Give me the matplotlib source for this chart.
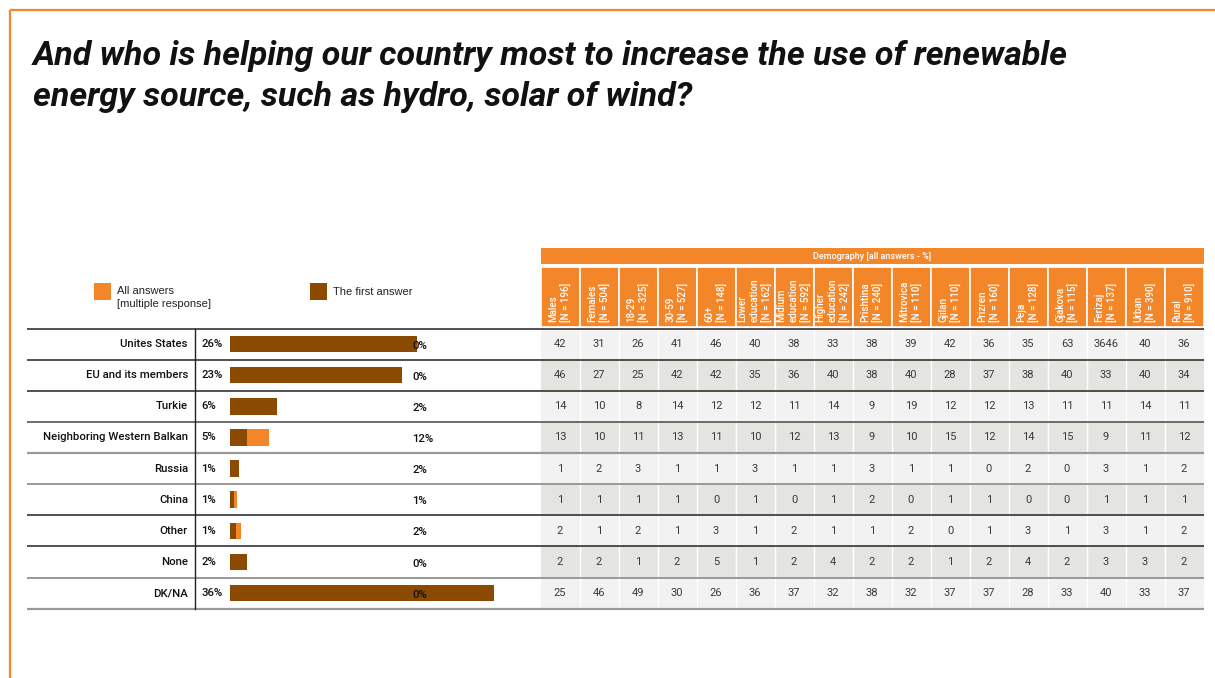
import matplotlib
matplotlib.use('Agg')
import matplotlib.pyplot as plt

W, H = 1215, 678
ORANGE = '#F4862A'
BROWN = '#8B4A02'

title = ('And who is helping our country most to increase the use of renewable\n'
         'energy source, such as hydro, solar of wind?')

answers = ['Unites States', 'EU and its members', 'Turkie', 'Neighboring Western Balkan',
           'Russia', 'China', 'Other', 'None', 'DK/NA']
first_pct = [26, 23, 6, 5, 1, 1, 1, 2, 36]
all_pct = [0, 0, 2, 12, 2, 1, 2, 0, 0]
# bar lengths as drawn (in % units)
bar_first = [25.8, 23.7, 6.5, 2.3, 1.2, 0.5, 0.8, 2.3, 36.4]
bar_all = [25.8, 23.7, 6.5, 5.4, 1.2, 1.0, 1.5, 2.3, 36.4]

columns = ['Males\n[N = 196]', 'Females\n[N = 504]', '18-29\n[N = 325]', '30-59\n[N = 527]',
           '60+\n[N = 148]', 'Lower\neducation\n[N = 162]', 'Midium\neducation\n[N = 592]',
           'Higher\neducation\n[N = 242]', 'Prishtina\n[N = 240]', 'Mitrovica\n[N = 110]',
           'Gjilan\n[N = 110]', 'Prizren\n[N = 160]', 'Peja\n[N = 128]', 'Gjakova\n[N = 115]',
           'Ferizaj\n[N = 137]', 'Urban\n[N = 390]', 'Rural\n[N = 910]']

demography = [
    [42, 31, 26, 41, 46, 40, 38, 33, 38, 39, 42, 36, 35, 63, 3646, 40, 36],
    [46, 27, 25, 42, 42, 35, 36, 40, 38, 40, 28, 37, 38, 40, 33, 40, 34],
    [14, 10, 8, 14, 12, 12, 11, 14, 9, 19, 12, 12, 13, 11, 11, 14, 11],
    [13, 10, 11, 13, 11, 10, 12, 13, 9, 10, 15, 12, 14, 15, 9, 11, 12],
    [1, 2, 3, 1, 1, 3, 1, 1, 3, 1, 1, 0, 2, 0, 3, 1, 2],
    [1, 1, 1, 1, 0, 1, 0, 1, 2, 0, 1, 1, 0, 0, 1, 1, 1],
    [2, 1, 2, 1, 3, 1, 2, 1, 1, 2, 0, 1, 3, 1, 3, 1, 2],
    [2, 2, 1, 2, 5, 1, 2, 4, 2, 2, 1, 2, 4, 2, 3, 3, 2],
    [25, 46, 49, 30, 26, 36, 37, 32, 38, 32, 37, 37, 28, 33, 40, 33, 37],
]

n_rows = len(answers)
n_cols = len(columns)

# pixel layout
T, B = 328.5, 608.7
TAB_L, TAB_R = 540.5, 1203.5
BAR_L, BAR_W, PX_PER_PCT = 230, 290, 7.25


def pos(x0, y0, x1, y1):
    return [x0 / W, 1 - y1 / H, (x1 - x0) / W, (y1 - y0) / H]


fig = plt.figure(figsize=(W / 100, H / 100), dpi=100)

# base canvas in pixel coordinates
ax = fig.add_axes([0, 0, 1, 1])
ax.set_xlim(0, W)
ax.set_ylim(H, 0)
ax.axis('off')
ax.plot([10, W], [10, 10], color=ORANGE, lw=1.6, solid_capstyle='butt')
ax.plot([10, 10], [10, H], color=ORANGE, lw=1.6, solid_capstyle='butt')
ax.text(33, 40, title, fontsize=24.5, fontweight='bold', style='italic', family='Roboto',
        va='top', ha='left', linespacing=1.36, color='#111111')

# legend
ax.add_patch(plt.Rectangle((94, 283), 17, 17, color=ORANGE, lw=0))
ax.text(117, 286.5, 'All answers\n[multiple response]', fontsize=8, family='Liberation Sans',
        va='top', ha='left', linespacing=1.3, color='#222222')
ax.add_patch(plt.Rectangle((310, 283), 17, 17, color=BROWN, lw=0))
ax.text(333, 292, 'The first answer', fontsize=8, family='Liberation Sans',
        va='center', ha='left', color='#222222')

# header
ax_head = fig.add_axes(pos(TAB_L, 247, TAB_R, T - 1.5))
ax_head.set_xlim(0, n_cols)
ax_head.set_ylim(T - 1.5, 247)
ax_head.axis('off')
ax_head.barh(256, n_cols, height=16.5, left=0, color=ORANGE, lw=0)
ax_head.text(n_cols / 2, 256.5, 'Demography [all answers - %]', color='white', fontsize=6.5,
             family='Roboto', fontweight='medium', ha='center', va='center')
ax_head.bar([j + 0.5 for j in range(n_cols)], T - 1.5 - 266.5, bottom=266.5, width=1,
            color=ORANGE, edgecolor='white', lw=1.2)
for j, lab in enumerate(columns):
    ax_head.text(j + 0.5, 322.5, lab, rotation=90, color='white', fontsize=7, family='Roboto',
                 fontweight='medium', ha='center', va='bottom', multialignment='left',
                 linespacing=1.25)

# table body
ax_tab = fig.add_axes(pos(TAB_L, T, TAB_R, B))
ax_tab.set_xlim(0, n_cols)
ax_tab.set_ylim(n_rows, 0)
ax_tab.axis('off')
for i in range(n_rows):
    shade = '#F2F2F2' if i % 2 == 0 else '#E4E4E0'
    ax_tab.barh(i + 0.5, n_cols, height=1, left=0, color=shade, lw=0)
    for j, v in enumerate(demography[i]):
        ax_tab.text(j + 0.5, i + 0.5, str(v), fontsize=8, family='Roboto',
                    ha='center', va='center', color='#3a3a3a')
for j in range(1, n_cols):
    ax_tab.axvline(j, color='white', lw=1)

# bars
ax_bar = fig.add_axes(pos(BAR_L, T, BAR_L + BAR_W, B))
ax_bar.set_xlim(0, BAR_W / PX_PER_PCT)
ax_bar.set_ylim(n_rows, 0)
ax_bar.axis('off')
ys = [i + 0.5 for i in range(n_rows)]
ax_bar.barh(ys, bar_all, height=0.53, color=ORANGE, lw=0)
ax_bar.barh(ys, bar_first, height=0.53, color=BROWN, lw=0)

# row labels, percentages and rules
ax_rows = fig.add_axes(pos(0, T, W, B))
ax_rows.set_xlim(0, W)
ax_rows.set_ylim(n_rows, 0)
ax_rows.axis('off')
ax_rows.patch.set_alpha(0)
for i, name in enumerate(answers):
    ax_rows.text(188, i + 0.5, name, fontsize=8.2, family='Roboto', fontweight='medium',
                 ha='right', va='center', color='#111111')
    ax_rows.text(201, i + 0.5, f'{first_pct[i]}%', fontsize=8.2, family='Roboto',
                 fontweight='medium', ha='left', va='center', color='#111111')
    ax_rows.text(412.5, i + 0.55, f'{all_pct[i]}%', fontsize=8.2, family='Roboto',
                 fontweight='medium', ha='left', va='center', color='#111111')
line_cols = ['#333333', '#333333', '#333333', '#555555', '#999999',
             '#999999', '#333333', '#333333', '#999999', '#999999']
line_w = [1.2, 1.2, 1.2, 1.2, 1.6, 1.4, 1.2, 1.2, 1.4, 1.6]
for k in range(n_rows + 1):
    ax_rows.plot([27, TAB_R], [k, k], color=line_cols[k], lw=line_w[k], clip_on=False,
                 solid_capstyle='butt')
ax_rows.plot([195, 195], [0, n_rows], color='#222222', lw=1.0, clip_on=False)

fig.savefig('out.png', dpi=100)
